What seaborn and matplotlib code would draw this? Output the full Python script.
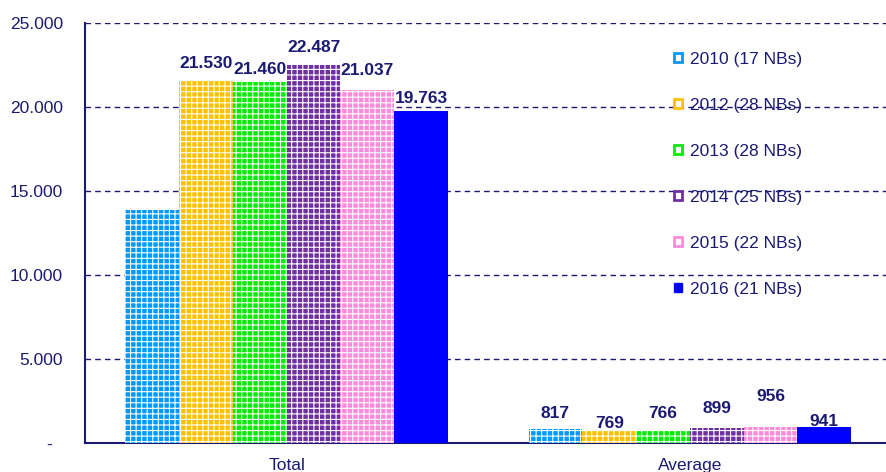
import seaborn as sns
import pandas as pd
import matplotlib.pyplot as plt
from matplotlib.patches import Patch
from matplotlib.ticker import FuncFormatter, MultipleLocator

groups = ["Total", "Average"]
years = ["2010 (17 NBs)", "2012 (28 NBs)", "2013 (28 NBs)",
         "2014 (25 NBs)", "2015 (22 NBs)", "2016 (21 NBs)"]
total = [13870, 21530, 21460, 22487, 21037, 19763]
average = [817, 769, 766, 899, 956, 941]
colors = ["#0099FF", "#FFC000", "#00EE00", "#7030A0", "#FF8ADC", "#0000FF"]

# label offsets (points above bar top), Excel placed them a bit unevenly
total_off = [None, 13, 9, 13, 14, 9]
avg_off = [11, 5, 12, 14, 22, 4]

navy = "#1a1a73"
plt.rcParams['font.family'] = ['Liberation Sans', 'DejaVu Sans']
plt.rcParams['hatch.linewidth'] = 0.8

rows = []
for y, t, a in zip(years, total, average):
    rows.append({"group": "Total", "year": y, "value": t})
    rows.append({"group": "Average", "year": y, "value": a})
df = pd.DataFrame(rows)

fig = plt.figure(figsize=(8.86, 4.72), dpi=100)
ax = fig.add_axes([85/886, 1-443/472, 806.5/886, 420/472])

sns.barplot(data=df, x="group", y="value", hue="year", order=groups,
            hue_order=years, palette=colors, saturation=1, width=0.8,
            errorbar=None, legend=False, ax=ax, zorder=3)

for i, cont in enumerate(ax.containers):
    for bar in cont:
        bar.set_linewidth(0)
        if i < 5:
            bar.set_hatch("+++")
            bar.set_edgecolor("white")

# value labels
for i, cont in enumerate(ax.containers):
    offs = [total_off[i], avg_off[i]]
    for bar, off in zip(cont, offs):
        if off is None:
            continue
        v = bar.get_height()
        ax.annotate(f"{v:,.0f}".replace(",", "."),
                    (bar.get_x() + bar.get_width()/2, v),
                    xytext=(0, off), textcoords="offset points",
                    ha="center", va="center", fontsize=12.5,
                    fontweight="bold", color=navy, zorder=5)

ax.set_ylim(0, 25000)
ax.set_xlim(-0.5, 1.5)
ax.yaxis.set_major_locator(MultipleLocator(5000))
ax.yaxis.set_major_formatter(FuncFormatter(
    lambda v, p: "-  " if v == 0 else f"{v:,.0f}".replace(",", ".")))
ax.grid(axis="y", color=navy, linestyle=(0, (4, 3)), linewidth=1, zorder=0)
ax.set_axisbelow(True)
ax.tick_params(axis="y", length=0, pad=16, labelsize=12.5, labelcolor=navy)
ax.tick_params(axis="x", length=0, pad=11, labelsize=12.5, labelcolor=navy)
ax.set_xlabel("")
ax.set_ylabel("")
for s in ["top", "right"]:
    ax.spines[s].set_visible(False)
for s in ["left", "bottom"]:
    ax.spines[s].set_color(navy)
    ax.spines[s].set_linewidth(1.5)

handles = []
for i, c in enumerate(colors):
    if i < 5:
        handles.append(Patch(facecolor="white", edgecolor=c, linewidth=2))
    else:
        handles.append(Patch(facecolor=c, edgecolor=c))
leg = ax.legend(handles, years, loc="upper left",
                bbox_to_anchor=((674-85)/806.5, 1-(52-23)/420),
                frameon=False, fontsize=12.5, labelspacing=1.78,
                handlelength=0.45, handleheight=0.45, handletextpad=0.5,
                borderpad=0, borderaxespad=0)
for t in leg.get_texts():
    t.set_color(navy)

fig.savefig("out.png", dpi=100)
